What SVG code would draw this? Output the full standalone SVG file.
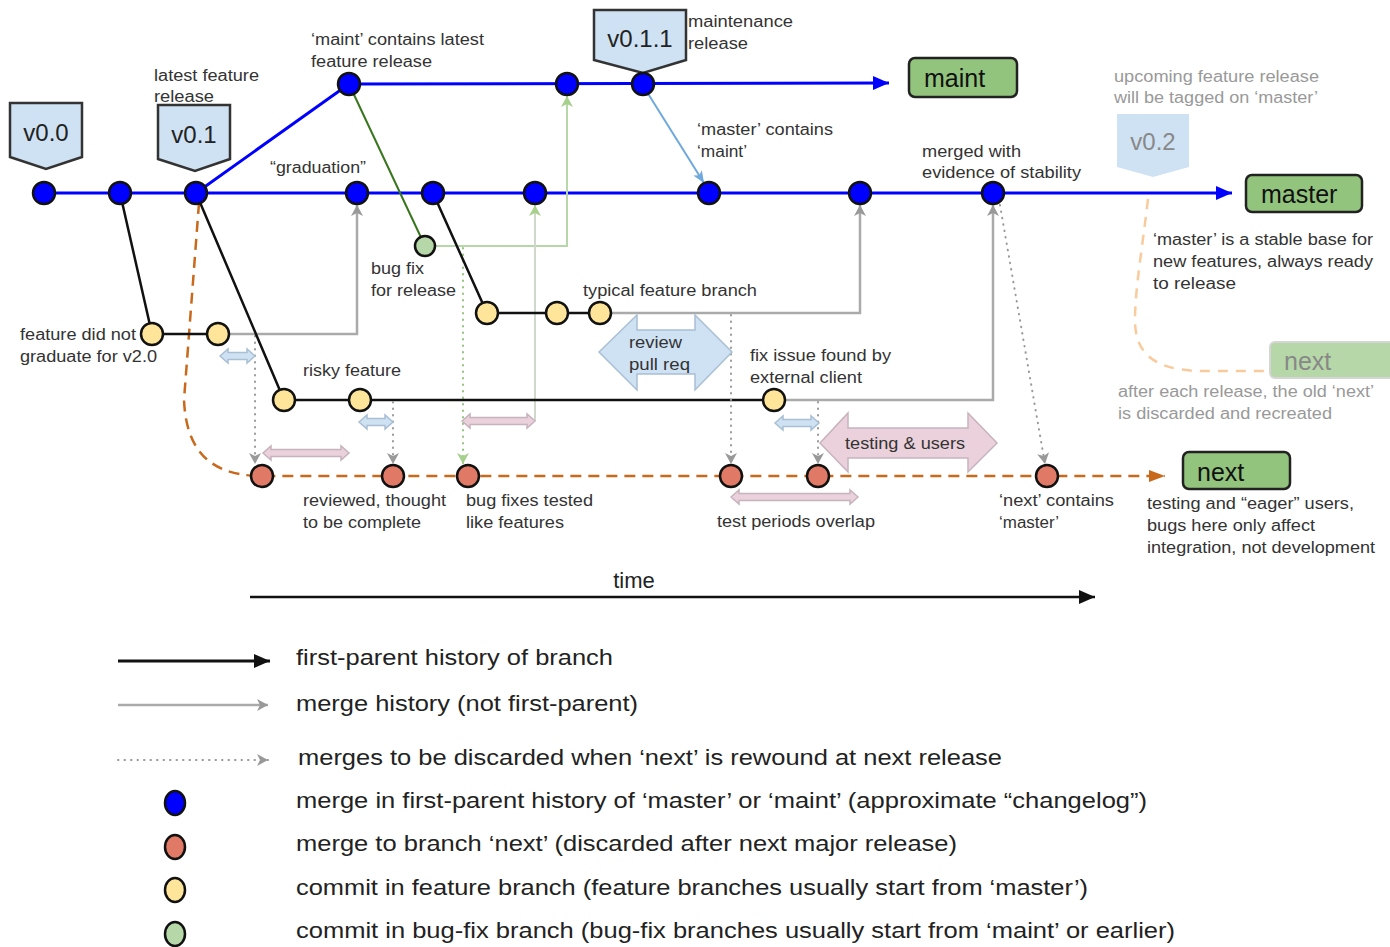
<svg xmlns="http://www.w3.org/2000/svg" width="1390" height="947" viewBox="0 0 1390 947">
<defs>
<style>
.lbl{font-family:"Liberation Sans",Arial,sans-serif;font-size:16px;fill:#333}
.faint{fill:#999}
.leg{font-family:"Liberation Sans",Arial,sans-serif;font-size:22px;fill:#222}
.box{font-family:"Liberation Sans",Arial,sans-serif;font-size:25px;fill:#111}
.tag{font-family:"Liberation Sans",Arial,sans-serif;font-size:24px;fill:#222;text-anchor:middle}
.nb{fill:#0000ff;stroke:#111;stroke-width:2.5}
.nr{fill:#e07a66;stroke:#111;stroke-width:2.5}
.ny{fill:#ffe599;stroke:#111;stroke-width:2.5}
.ng{fill:#b6d7a8;stroke:#111;stroke-width:2.5}
.blue{stroke:#0000ff;stroke-width:3;fill:none}
.black{stroke:#111;stroke-width:2.5;fill:none}
.gray{stroke:#aaa;stroke-width:2.5;fill:none}
.dot{stroke:#999;stroke-width:2;fill:none;stroke-dasharray:0.5 6;stroke-linecap:round}
.pinkA{fill:#ead1dc;stroke:#c7b3bd;stroke-width:1.5}
.blueA{fill:#cfe2f3;stroke:#a9bfd3;stroke-width:1.5}
</style>
<marker id="ahBlue" markerWidth="16" markerHeight="14" refX="16" refY="7" orient="auto" markerUnits="userSpaceOnUse"><path d="M0,0 L16,7 L0,14 z" fill="#0000ff"/></marker>
<marker id="ahBlack" markerWidth="16" markerHeight="14" refX="16" refY="7" orient="auto" markerUnits="userSpaceOnUse"><path d="M0,0 L16,7 L0,14 z" fill="#111"/></marker>
<marker id="ahOrange" markerWidth="16" markerHeight="12" refX="16" refY="6" orient="auto" markerUnits="userSpaceOnUse"><path d="M0,0 L16,6 L0,12 z" fill="#c8691c"/></marker>
<marker id="ahLBlue" markerWidth="14" markerHeight="12" refX="13" refY="6" orient="auto" markerUnits="userSpaceOnUse"><path d="M1,1 L13,6 L1,11 L4,6 z" fill="#6fa8dc"/></marker>
<marker id="chGray" markerWidth="14" markerHeight="14" refX="12" refY="7" orient="auto" markerUnits="userSpaceOnUse"><path d="M1,1 L12,7 L1,13 L4,7 z" fill="#999"/></marker>
<marker id="chGreen" markerWidth="14" markerHeight="14" refX="12" refY="7" orient="auto" markerUnits="userSpaceOnUse"><path d="M1,1 L12,7 L1,13 L4,7 z" fill="#a8d08d"/></marker>
</defs>
<rect width="1390" height="947" fill="#fff"/>

<g id="connectors">
  <path d="M1148,199 C1142,250 1135,290 1135,320 C1135,350 1150,370 1200,371 L1268,371" stroke="#f9cb9c" stroke-width="2.5" fill="none" stroke-dasharray="10 8"/>
  <path d="M199,203 L184,400 C186,445 205,476 262,476 L1165,476" stroke="#c8691c" stroke-width="2.5" fill="none" stroke-dasharray="11 7" marker-end="url(#ahOrange)"/>
  <path d="M44,193 L1232,193" class="blue" marker-end="url(#ahBlue)"/>
  <path d="M196,193 L349,84 L889,83" class="blue" marker-end="url(#ahBlue)"/>
  <path d="M647,92 L704,183" stroke="#6fa8dc" stroke-width="2" fill="none" marker-end="url(#ahLBlue)"/>
  <path d="M349,84 L425,246" stroke="#38761d" stroke-width="2" fill="none"/>
  <path d="M425,246 L567,246 L567,96" stroke="#b6d7a8" stroke-width="2" fill="none" marker-end="url(#chGreen)"/>
  <path d="M463,248 L463,464" stroke="#93c47d" stroke-width="2" fill="none" stroke-dasharray="0.5 6" stroke-linecap="round" marker-end="url(#chGreen)"/>
  <path d="M535,421 L535,205" stroke="#cfd8cb" stroke-width="2" fill="none" marker-end="url(#chGreen)"/>
  <path d="M120,193 L152,334 L218,334" class="black"/>
  <path d="M229,334 L357,334 L357,205" class="gray" marker-end="url(#chGray)"/>
  <path d="M255,336 L255,464" class="dot" marker-end="url(#chGray)"/>
  <path d="M196,193 L284,400 L774,400" class="black"/>
  <path d="M785,400 L993,400 L993,205" class="gray" marker-end="url(#chGray)"/>
  <path d="M393,402 L393,464" class="dot" marker-end="url(#chGray)"/>
  <path d="M818,402 L818,464" class="dot" marker-end="url(#chGray)"/>
  <path d="M433,193 L487,313 L600,313" class="black"/>
  <path d="M611,313 L860,313 L860,205" class="gray" marker-end="url(#chGray)"/>
  <path d="M731,315 L731,464" class="dot" marker-end="url(#chGray)"/>
  <path d="M1000,205 L1045,464" class="dot" marker-end="url(#chGray)"/>
  <path d="M250,597 L1095,597" stroke="#111" stroke-width="2.5" fill="none" marker-end="url(#ahBlack)"/>
</g>

<g id="period-arrows">
  <path class="blueA" d="M599,352 L637,315 L637,330 L695,330 L695,315 L732,352 L695,390 L695,374 L637,374 L637,390 Z"/>
  <path class="pinkA" d="M820,443 L848,413 L848,428 L968,428 L968,413 L997,443 L968,472 L968,458 L848,458 L848,472 Z"/>
  <path class="blueA" d="M220,356 L228,349 L228,352.5 L247,352.5 L247,349 L255,356 L247,363 L247,359.5 L228,359.5 L228,363 Z"/>
  <path class="pinkA" d="M263,453 L271,446 L271,449.5 L341,449.5 L341,446 L349,453 L341,460 L341,456.5 L271,456.5 L271,460 Z"/>
  <path class="blueA" d="M359,422 L367,415 L367,418.5 L385,418.5 L385,415 L393,422 L385,429 L385,425.5 L367,425.5 L367,429 Z"/>
  <path class="pinkA" d="M462,421 L470,414 L470,417.5 L527,417.5 L527,414 L535,421 L527,428 L527,424.5 L470,424.5 L470,428 Z"/>
  <path class="blueA" d="M775,423 L783,416 L783,419.5 L811,419.5 L811,416 L819,423 L811,430 L811,426.5 L783,426.5 L783,430 Z"/>
  <path class="pinkA" d="M731,497 L739,490 L739,493.5 L850,493.5 L850,490 L858,497 L850,504 L850,500.5 L739,500.5 L739,504 Z"/>
  <text class="lbl" x="629" y="348" textLength="53" lengthAdjust="spacingAndGlyphs">review</text>
  <text class="lbl" x="629" y="370" textLength="61" lengthAdjust="spacingAndGlyphs">pull req</text>
  <text class="lbl" x="845" y="449" textLength="120" lengthAdjust="spacingAndGlyphs">testing &amp; users</text>
</g>

<g id="tags">
  <g id="tag-v0.0"><path d="M10,103 L82,103 L82,157 L46,169 L10,157 Z" fill="#cfe2f3" stroke="#333" stroke-width="2.5"/><text class="tag" x="46" y="141">v0.0</text></g>
  <g id="tag-v0.1"><path d="M158,105 L230,105 L230,159 L195,171 L158,159 Z" fill="#cfe2f3" stroke="#333" stroke-width="2.5"/><text class="tag" x="194" y="143">v0.1</text></g>
  <g id="tag-v0.1.1"><path d="M594,10 L686,10 L686,60 L643,73 L594,60 Z" fill="#cfe2f3" stroke="#333" stroke-width="2.5"/><text class="tag" x="640" y="47">v0.1.1</text></g>
  <g id="tag-v0.2"><path d="M1117,114 L1189,114 L1189,167 L1153,177 L1117,167 Z" fill="#cfe2f3"/><text class="tag" x="1153" y="150" style="fill:#888">v0.2</text></g>
</g>

<g id="branches">
  <g id="branch-maint"><rect x="909" y="58" width="108" height="39" rx="6" fill="#93c47d" stroke="#222" stroke-width="2.5"/><text class="box" x="924" y="87">maint</text></g>
  <g id="branch-master"><rect x="1246" y="175" width="116" height="37" rx="6" fill="#93c47d" stroke="#222" stroke-width="2.5"/><text class="box" x="1261" y="203">master</text></g>
  <g id="branch-next"><rect x="1183" y="452" width="107" height="37" rx="6" fill="#93c47d" stroke="#222" stroke-width="2.5"/><text class="box" x="1197" y="481">next</text></g>
  <g id="branch-next-old"><rect x="1270" y="342" width="130" height="36" rx="5" fill="#b6d7a8" stroke="#d5d5d5" stroke-width="2"/><text class="box" x="1284" y="370" style="fill:#888">next</text></g>
</g>

<g id="commits">
  <circle class="nb" cx="44" cy="193" r="11"/>
  <circle class="nb" cx="120" cy="193" r="11"/>
  <circle class="nb" cx="196" cy="193" r="11"/>
  <circle class="nb" cx="357" cy="193" r="11"/>
  <circle class="nb" cx="433" cy="193" r="11"/>
  <circle class="nb" cx="535" cy="193" r="11"/>
  <circle class="nb" cx="709" cy="193" r="11"/>
  <circle class="nb" cx="860" cy="193" r="11"/>
  <circle class="nb" cx="993" cy="193" r="11"/>
  <circle class="nb" cx="349" cy="84" r="11"/>
  <circle class="nb" cx="567" cy="84" r="11"/>
  <circle class="nb" cx="643" cy="84" r="11"/>
  <circle class="ng" cx="425" cy="246" r="10"/>
  <circle class="ny" cx="152" cy="334" r="11"/>
  <circle class="ny" cx="218" cy="334" r="11"/>
  <circle class="ny" cx="284" cy="400" r="11"/>
  <circle class="ny" cx="360" cy="400" r="11"/>
  <circle class="ny" cx="774" cy="400" r="11"/>
  <circle class="ny" cx="487" cy="313" r="11"/>
  <circle class="ny" cx="557" cy="313" r="11"/>
  <circle class="ny" cx="600" cy="313" r="11"/>
  <circle class="nr" cx="262" cy="476" r="11"/>
  <circle class="nr" cx="393" cy="476" r="11"/>
  <circle class="nr" cx="468" cy="476" r="11"/>
  <circle class="nr" cx="731" cy="476" r="11"/>
  <circle class="nr" cx="818" cy="476" r="11"/>
  <circle class="nr" cx="1047" cy="476" r="11"/>
</g>

<g id="labels">
  <text class="lbl" x="154" y="81" textLength="105" lengthAdjust="spacingAndGlyphs">latest feature</text>
  <text class="lbl" x="154" y="102" textLength="60" lengthAdjust="spacingAndGlyphs">release</text>
  <text class="lbl" x="311" y="45" textLength="173" lengthAdjust="spacingAndGlyphs">‘maint’ contains latest</text>
  <text class="lbl" x="311" y="67" textLength="121" lengthAdjust="spacingAndGlyphs">feature release</text>
  <text class="lbl" x="688" y="27" textLength="105" lengthAdjust="spacingAndGlyphs">maintenance</text>
  <text class="lbl" x="688" y="49" textLength="60" lengthAdjust="spacingAndGlyphs">release</text>
  <text class="lbl" x="697" y="135" textLength="136" lengthAdjust="spacingAndGlyphs">‘master’ contains</text>
  <text class="lbl" x="697" y="157" textLength="50" lengthAdjust="spacingAndGlyphs">‘maint’</text>
  <text class="lbl" x="922" y="157" textLength="99" lengthAdjust="spacingAndGlyphs">merged with</text>
  <text class="lbl" x="922" y="178" textLength="159" lengthAdjust="spacingAndGlyphs">evidence of stability</text>
  <text class="lbl faint" x="1114" y="82" textLength="205" lengthAdjust="spacingAndGlyphs">upcoming feature release</text>
  <text class="lbl faint" x="1114" y="103" textLength="204" lengthAdjust="spacingAndGlyphs">will be tagged on ‘master’</text>
  <text class="lbl" x="1153" y="245" textLength="220" lengthAdjust="spacingAndGlyphs">‘master’ is a stable base for</text>
  <text class="lbl" x="1153" y="267" textLength="220" lengthAdjust="spacingAndGlyphs">new features, always ready</text>
  <text class="lbl" x="1153" y="289" textLength="83" lengthAdjust="spacingAndGlyphs">to release</text>
  <text class="lbl" x="270" y="173" textLength="96" lengthAdjust="spacingAndGlyphs">“graduation”</text>
  <text class="lbl" x="371" y="274" textLength="53" lengthAdjust="spacingAndGlyphs">bug fix</text>
  <text class="lbl" x="371" y="296" textLength="85" lengthAdjust="spacingAndGlyphs">for release</text>
  <text class="lbl" x="20" y="340" textLength="116" lengthAdjust="spacingAndGlyphs">feature did not</text>
  <text class="lbl" x="20" y="362" textLength="137" lengthAdjust="spacingAndGlyphs">graduate for v2.0</text>
  <text class="lbl" x="303" y="376" textLength="98" lengthAdjust="spacingAndGlyphs">risky feature</text>
  <text class="lbl" x="583" y="296" textLength="174" lengthAdjust="spacingAndGlyphs">typical feature branch</text>
  <text class="lbl" x="750" y="361" textLength="141" lengthAdjust="spacingAndGlyphs">fix issue found by</text>
  <text class="lbl" x="750" y="383" textLength="112" lengthAdjust="spacingAndGlyphs">external client</text>
  <text class="lbl" x="303" y="506" textLength="143" lengthAdjust="spacingAndGlyphs">reviewed, thought</text>
  <text class="lbl" x="303" y="528" textLength="118" lengthAdjust="spacingAndGlyphs">to be complete</text>
  <text class="lbl" x="466" y="506" textLength="127" lengthAdjust="spacingAndGlyphs">bug fixes tested</text>
  <text class="lbl" x="466" y="528" textLength="98" lengthAdjust="spacingAndGlyphs">like features</text>
  <text class="lbl" x="717" y="527" textLength="158" lengthAdjust="spacingAndGlyphs">test periods overlap</text>
  <text class="lbl" x="999" y="506" textLength="115" lengthAdjust="spacingAndGlyphs">‘next’ contains</text>
  <text class="lbl" x="999" y="528" textLength="60" lengthAdjust="spacingAndGlyphs">‘master’</text>
  <text class="lbl" x="1147" y="509" textLength="207" lengthAdjust="spacingAndGlyphs">testing and “eager” users,</text>
  <text class="lbl" x="1147" y="531" textLength="168" lengthAdjust="spacingAndGlyphs">bugs here only affect</text>
  <text class="lbl" x="1147" y="553" textLength="228" lengthAdjust="spacingAndGlyphs">integration, not development</text>
  <text class="lbl faint" x="1118" y="397" textLength="256" lengthAdjust="spacingAndGlyphs">after each release, the old ‘next’</text>
  <text class="lbl faint" x="1118" y="419" textLength="214" lengthAdjust="spacingAndGlyphs">is discarded and recreated</text>
  <text class="lbl" x="634" y="588" style="font-size:22px;fill:#222" text-anchor="middle">time</text>
</g>

<g id="legend">
  <path d="M118,661 L270,661" stroke="#111" stroke-width="3" fill="none" marker-end="url(#ahBlack)"/>
  <path d="M118,705 L268,705" class="gray" marker-end="url(#chGray)"/>
  <path d="M118,760 L268,760" class="dot" marker-end="url(#chGray)"/>
  <ellipse class="nb" cx="175" cy="803" rx="10" ry="12"/>
  <ellipse class="nr" cx="175" cy="847" rx="10" ry="12"/>
  <ellipse class="ny" cx="175" cy="890" rx="10" ry="12"/>
  <ellipse class="ng" cx="175" cy="934" rx="10" ry="12"/>
  <text class="leg" x="296" y="665" textLength="317" lengthAdjust="spacingAndGlyphs">first-parent history of branch</text>
  <text class="leg" x="296" y="711" textLength="342" lengthAdjust="spacingAndGlyphs">merge history (not first-parent)</text>
  <text class="leg" x="298" y="765" textLength="704" lengthAdjust="spacingAndGlyphs">merges to be discarded when ‘next’ is rewound at next release</text>
  <text class="leg" x="296" y="808" textLength="851" lengthAdjust="spacingAndGlyphs">merge in first-parent history of ‘master’ or ‘maint’ (approximate “changelog”)</text>
  <text class="leg" x="296" y="851" textLength="661" lengthAdjust="spacingAndGlyphs">merge to branch ‘next’ (discarded after next major release)</text>
  <text class="leg" x="296" y="895" textLength="792" lengthAdjust="spacingAndGlyphs">commit in feature branch (feature branches usually start from ‘master’)</text>
  <text class="leg" x="296" y="938" textLength="879" lengthAdjust="spacingAndGlyphs">commit in bug-fix branch (bug-fix branches usually start from ‘maint’ or earlier)</text>
</g>
</svg>
